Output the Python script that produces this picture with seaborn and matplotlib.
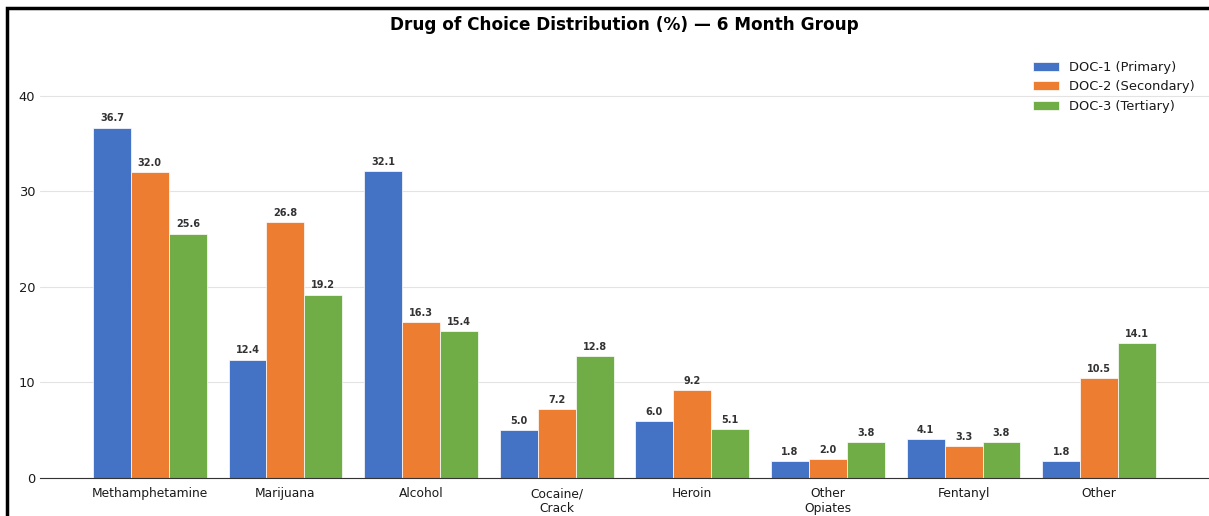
import pandas as pd
import numpy as np
import matplotlib.pyplot as plt
import seaborn as sns
from matplotlib.patches import Rectangle

categories = ["Methamphetamine", "Marijuana", "Alcohol", "Cocaine/\nCrack", "Heroin",
              "Other\nOpiates", "Fentanyl", "Other"]
doc1 = [36.7, 12.4, 32.1, 5.0, 6.0, 1.8, 4.1, 1.8]
doc2 = [32.0, 26.8, 16.3, 7.2, 9.2, 2.0, 3.3, 10.5]
doc3 = [25.6, 19.2, 15.4, 12.8, 5.1, 3.8, 3.8, 14.1]
series = ["DOC-1 (Primary)", "DOC-2 (Secondary)", "DOC-3 (Tertiary)"]
colors = ["#4472C4", "#ED7D31", "#70AD47"]

rows = []
for s, vals in zip(series, [doc1, doc2, doc3]):
    for c, v in zip(categories, vals):
        rows.append({"Drug": c, "Series": s, "Pct": v})
df = pd.DataFrame(rows)

sns.set_style("white")
plt.rcParams["text.color"] = "#1a1a1a"
plt.rcParams["xtick.color"] = "#1a1a1a"
plt.rcParams["ytick.color"] = "#1a1a1a"

fig = plt.figure(figsize=(12.09, 5.16), dpi=100)
ax = fig.add_axes([40/1209, 1-478/516, 1-40/1209, (478-57.4)/516])

sns.barplot(data=df, x="Drug", y="Pct", hue="Series", palette=colors, width=0.84,
            saturation=1, edgecolor="white", linewidth=0.5, ax=ax)

for cont in ax.containers:
    ax.bar_label(cont, fmt="%.1f", padding=3, fontsize=7, fontweight="bold", color="#333333")

ax.set_ylim(0, max(doc1) * 1.2)
ax.set_xlim(-0.81, len(categories) - 1 + 0.81)
ax.set_yticks([0, 10, 20, 30, 40])
ax.yaxis.grid(True, color="#e3e3e3", linewidth=0.8)
ax.set_axisbelow(True)
for sp in ["top", "right", "left"]:
    ax.spines[sp].set_visible(False)
ax.spines["bottom"].set_color("#333333")
ax.tick_params(axis="y", length=0, labelsize=9.4)
ax.tick_params(axis="x", length=3, labelsize=8.8, color="#333333")
ax.set_xlabel("")
ax.set_ylabel("")
ax.set_title("Drug of Choice Distribution (%) — 6 Month Group", fontsize=12.2,
             fontweight="bold", pad=20, color="black")
ax.legend(loc="upper right", bbox_to_anchor=(0.998, 1.02), frameon=False, fontsize=9.4)

fig.add_artist(Rectangle((7/1209, -0.5), 2, 1.5 - 8/516, transform=fig.transFigure,
                         fill=False, edgecolor="black", linewidth=2.5, clip_on=False))

fig.savefig("out.png", dpi=100)
